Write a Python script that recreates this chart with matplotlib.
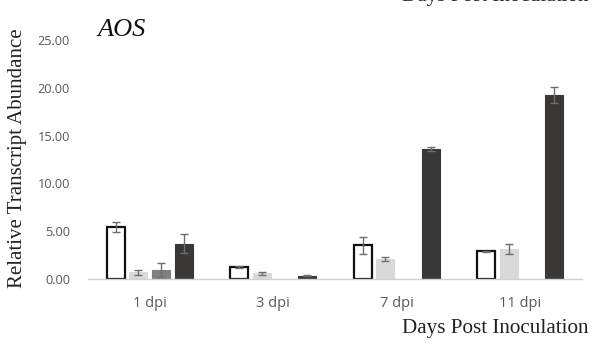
import matplotlib
matplotlib.use("Agg")
import matplotlib.pyplot as plt
import numpy as np

categories = ["1 dpi", "3 dpi", "7 dpi", "11 dpi"]
series_a = [5.45, 1.25, 3.52, 2.90]
series_a_err = [0.50, 0.12, 0.90, 0.06]
series_b = [0.68, 0.62, 2.06, 3.14]
series_b_err = [0.25, 0.15, 0.20, 0.50]
series_c = [0.95, 0.0, 0.0, 0.0]
series_c_err = [0.75, 0.0, 0.0, 0.0]
series_d = [3.68, 0.35, 13.57, 19.28]
series_d_err = [1.00, 0.05, 0.20, 0.85]
y_ticks = [0, 5, 10, 15, 20, 25]

fig = plt.figure(figsize=(5.92, 3.49), dpi=100)
ax = fig.add_axes([88 / 592, 1 - 279 / 349, 494 / 592, 239 / 349])

x = np.arange(len(categories))
pitch = 0.184
width = 0.146
styles = [
    (series_a, series_a_err, "white", "#111111"),
    (series_b, series_b_err, "#d9d9d9", "#d9d9d9"),
    (series_c, series_c_err, "#7f7f7f", "#7f7f7f"),
    (series_d, series_d_err, "#3a3737", "#3a3737"),
]
for i, (vals, errs, fc, ec) in enumerate(styles):
    pos = x + (i - 1.5) * pitch
    vals = np.array(vals)
    errs = np.array(errs)
    show = vals > 0
    ax.bar(pos[show], vals[show], width=width, color=fc, edgecolor=ec,
           linewidth=1.6 if fc == "white" else 0.8, zorder=2)
    ax.errorbar(pos[show], vals[show], yerr=errs[show], fmt="none",
                ecolor="#6e6e6e", elinewidth=1.0, capsize=3, capthick=1.0, zorder=3)

ax.set_xlim(-0.5, 3.5)
ax.set_ylim(0, 25)
ax.set_yticks(y_ticks)
ax.set_yticklabels([f"{v:.2f}" for v in y_ticks])
ax.set_xticks(x)
ax.set_xticklabels(categories)
for s in ["top", "right", "left"]:
    ax.spines[s].set_visible(False)
ax.spines["bottom"].set_color("#d0d0d0")
ax.spines["bottom"].set_linewidth(1.0)
ax.tick_params(axis="both", length=0, labelcolor="#595959")
ax.tick_params(axis="y", pad=13, labelsize=9.2)
ax.tick_params(axis="x", pad=12, labelsize=10.5)
for lab in ax.get_xticklabels() + ax.get_yticklabels():
    lab.set_family("Open Sans")

serif = "Liberation Serif"
fig.text(18 / 592, 1 - 158 / 349, "Relative Transcript Abundance", rotation=90,
         ha="center", va="center", family=serif, fontsize=15, color="#222222")
fig.text(588 / 592, 1 - 328 / 349, "Days Post Inoculation", ha="right", va="center",
         family=serif, fontsize=15.2, color="#222222")
fig.text(97 / 592, 1 - 30 / 349, "AOS", ha="left", va="center", family=serif,
         style="italic", fontsize=19, color="#111111")
# bottom edge of an axis title belonging to a panel above this one
fig.text(588 / 592, 1 - 1.5 / 349, "Days Post Inoculation", ha="right", va="baseline",
         family=serif, fontsize=15.2, color="#222222")

fig.savefig("out.png", dpi=100)
